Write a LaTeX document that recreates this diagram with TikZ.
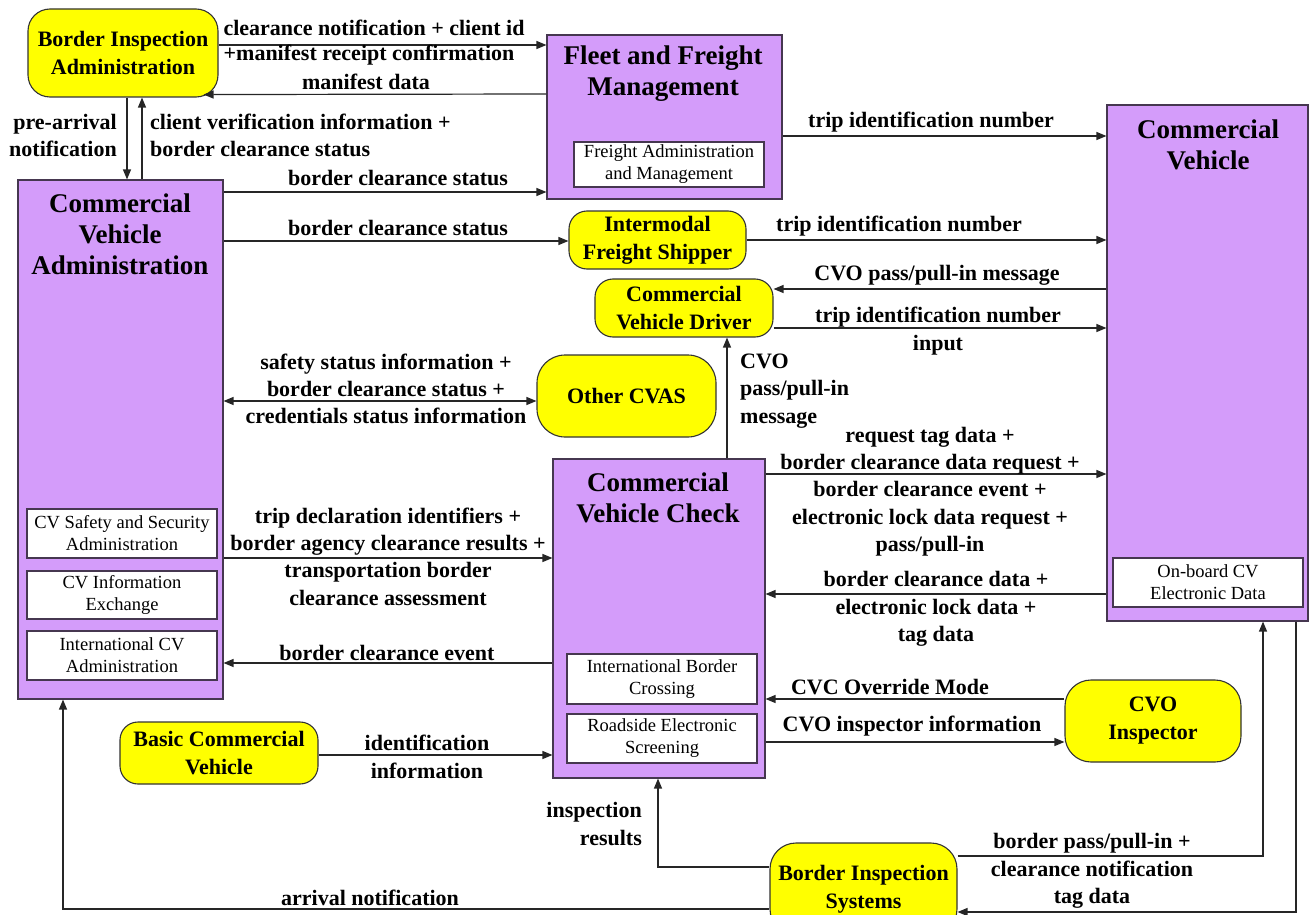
\documentclass[tikz,border=0pt]{standalone}
\usepackage{fontspec}
\setmainfont{Liberation Serif}
\usetikzlibrary{arrows.meta,calc}

\definecolor{cvpurple}{RGB}{212,156,250}
\definecolor{termyellow}{RGB}{255,255,0}
\definecolor{edgegray}{RGB}{70,55,80}

\tikzset{
  sysbox/.style={draw=edgegray, fill=cvpurple, line width=1.1pt, inner sep=0pt},
  subbox/.style={draw=edgegray, fill=white, line width=1.1pt, align=center,
    font=\fontsize{18.5}{22}\selectfont, inner sep=0pt},
  boxtitle/.style={align=center, font=\fontsize{27}{31}\selectfont\bfseries, inner sep=0pt},
  terminator/.style={draw=black!80, fill=termyellow, line width=1.1pt, rounded corners=18pt,
    align=center, font=\fontsize{22}{28}\selectfont\bfseries, inner sep=0pt},
  flowlabel/.style={align=center, font=\fontsize{22}{27.3}\selectfont\bfseries, inner sep=0pt},
  flow/.style={draw=black!85, line width=1.2pt, ->}
}

\begin{document}
\begin{tikzpicture}[x=1pt,y=-1pt,>={Triangle[length=10pt,width=8pt]}]

\useasboundingbox (0,0) rectangle (1309,915);
\clip (0,0) rectangle (1309,915);

% =========================
% SYSTEM BOXES
% =========================

\node[sysbox, minimum width=205pt, minimum height=519pt] (cva) at (120.5,439.5) {};
\node[boxtitle] (cvatitle) at (120,234) {Commercial\\Vehicle\\Administration};
\node[subbox, minimum width=190pt, minimum height=49pt] (cvasafety) at (122,533.5) {CV Safety and Security\\Administration};
\node[subbox, minimum width=190pt, minimum height=48pt] (cvaexch) at (122,595) {CV Information\\Exchange};
\node[subbox, minimum width=190pt, minimum height=49pt] (cvaintl) at (122,655.5) {International CV\\Administration};

\node[sysbox, minimum width=235pt, minimum height=164pt] (ffm) at (664.5,117) {};
\node[boxtitle] (ffmtitle) at (663,74) {Fleet and Freight\\Management};
\node[subbox, minimum width=190pt, minimum height=45pt] (ffmsub) at (669,164.5) {Freight Administration\\and Management};

\node[sysbox, minimum width=201pt, minimum height=516pt] (cv) at (1207.5,363) {};
\node[boxtitle] (cvtitle) at (1208,144.5) {Commercial\\Vehicle};
\node[subbox, minimum width=190pt, minimum height=49pt] (cvsub) at (1208,582.5) {On-board CV\\Electronic Data};

\node[sysbox, minimum width=212pt, minimum height=319pt] (cvc) at (659,618.5) {};
\node[boxtitle] (cvctitle) at (658,497.5) {Commercial\\Vehicle Check};
\node[subbox, minimum width=190pt, minimum height=50pt] (cvcborder) at (662,679) {International Border\\Crossing};
\node[subbox, minimum width=190pt, minimum height=49pt] (cvcscreen) at (662,738.5) {Roadside Electronic\\Screening};

% =========================
% TERMINATORS
% =========================

\node[terminator, minimum width=190pt, minimum height=88pt, rounded corners=22pt] (bia) at (123,53) {Border Inspection\\Administration};
\node[terminator, minimum width=177pt, minimum height=58pt] (ifs) at (657.5,240) {Intermodal\\Freight Shipper};
\node[terminator, minimum width=178pt, minimum height=58pt] (cvd) at (684,308) {Commercial\\Vehicle Driver};
\node[terminator, minimum width=179pt, minimum height=82pt, rounded corners=28pt] (ocvas) at (626.5,396) {Other CVAS};
\node[terminator, minimum width=176pt, minimum height=82pt, rounded corners=26pt] (cvoi) at (1153,721) {CVO\\Inspector};
\node[terminator, minimum width=198pt, minimum height=62pt] (bcv) at (219,753) {Basic Commercial\\Vehicle};
\node[terminator, minimum width=187pt, minimum height=92pt, rounded corners=26pt] (bis) at (863.5,889) {Border Inspection\\Systems};

% =========================
% FLOWS
% =========================

\draw[flow] (bia.east |- 0,45) -- (ffm.west |- 0,45);
\draw[flow] (ffm.west |- 0,94) -- ($(bia.south east)+(-15,-3)$);
\draw[flow] (bia.south -| 127,0) -- (cva.north -| 127,0);
\draw[flow] (cva.north -| 142,0) -- (bia.south -| 142,0);
\draw[flow] (cva.east |- 0,192) -- (ffm.west |- 0,192);
\draw[flow] (cva.east |- 0,241) -- (ifs.west |- 0,241);

\draw[flow] (ffm.east |- 0,136) -- (cv.west |- 0,136);
\draw[flow] (ifs.east |- 0,240) -- (cv.west |- 0,240);
\draw[flow] (cv.west |- 0,289) -- (cvd.east |- 0,289);
\draw[flow] (cvd.east |- 0,328) -- (cv.west |- 0,328);

\draw[flow, <->] (cva.east |- 0,401) -- (ocvas.west |- 0,401);
\draw[flow] (cvc.north -| 727,0) -- (cvd.south -| 727,0);

\draw[flow] (cvc.east |- 0,474) -- (cv.west |- 0,474);
\draw[flow] (cv.west |- 0,594) -- (cvc.east |- 0,594);
\draw[flow] (cva.east |- 0,558) -- (cvc.west |- 0,558);
\draw[flow] (cvc.west |- 0,663) -- (cva.east |- 0,663);

\draw[flow] (cvoi.west |- 0,699) -- (cvc.east |- 0,699);
\draw[flow] (cvc.east |- 0,742) -- (cvoi.west |- 0,742);
\draw[flow] (bcv.east |- 0,755) -- (cvc.west |- 0,755);

\draw[flow] (bis.west |- 0,867) -| (cvc.south -| 658,0);
\draw[flow] (bis.west |- 0,909) -| (cva.south -| 63,0);
\draw[flow] (bis.east |- 0,856) -| (cv.south -| 1263,0);
\draw[flow] (cv.south -| 1296,0) |- (bis.east |- 0,912);

% =========================
% LABELS
% =========================

\node[flowlabel] (lnotif) at (374,28) {clearance notification + client id};
\node[flowlabel] (lreceipt) at (369,55) {+manifest receipt confirmation};
\node[flowlabel] (lmanifest) at (366,82) {manifest data};
\node[flowlabel, align=right, anchor=east] (lprearr) at (117,135.5) {pre-arrival\\notification};
\node[flowlabel, align=left, anchor=west] (lverif) at (150,135.5) {client verification information +\\border clearance status};
\node[flowlabel] (lstatusa) at (398,178) {border clearance status};
\node[flowlabel] (lstatusb) at (398,228) {border clearance status};

\node[flowlabel] (ltripa) at (931,122) {trip identification number};
\node[flowlabel] (ltripb) at (899,226) {trip identification number};
\node[flowlabel] (lpullin) at (937,275) {CVO pass/pull-in message};
\node[flowlabel] (ltripc) at (938,331) {trip identification number\\input};

\node[flowlabel] (lsafety) at (386,389) {safety status information +\\border clearance status +\\credentials status information};
\node[flowlabel, align=left, anchor=west] (lcvo) at (740,391) {CVO\\pass/pull-in\\message};

\node[flowlabel] (lrequest) at (930,491.5) {request tag data +\\border clearance data request +\\border clearance event +\\electronic lock data request +\\pass/pull-in};
\node[flowlabel] (ldata) at (936,609) {border clearance data +\\electronic lock data +\\tag data};
\node[flowlabel] (ldecl) at (388,556.5) {trip declaration identifiers +\\border agency clearance results +\\transportation border\\clearance assessment};
\node[flowlabel] (levent) at (387,653) {border clearance event};

\node[flowlabel] (loverride) at (890,687) {CVC Override Mode};
\node[flowlabel] (linspector) at (912,726) {CVO inspector information};
\node[flowlabel] (lident) at (427,757) {identification\\information};
\node[flowlabel, align=right, anchor=east] (lresults) at (642,824) {inspection\\results};
\node[flowlabel] (larrival) at (370,898) {arrival notification};
\node[flowlabel] (lborder) at (1092,871) {border pass/pull-in +\\clearance notification\\tag data};

\end{tikzpicture}
\end{document}
